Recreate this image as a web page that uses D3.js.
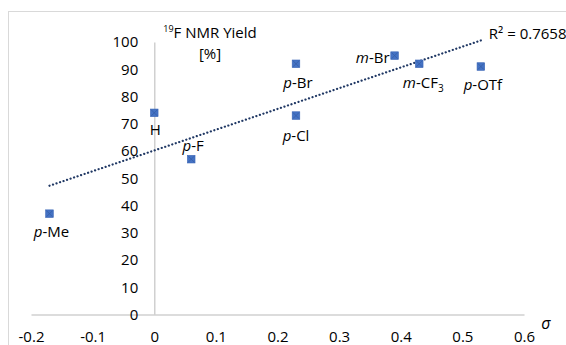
<!DOCTYPE html>
<meta charset="utf-8">
<style>
body { margin: 0; background: #fff; }
text { font-family: "Open Sans", sans-serif; fill: #000; }
.axis path { stroke: #d0d0d0; stroke-width: 1.5px; }
.axis text { font-size: 15px; fill: #000; }
</style>
<svg width="566" height="345"></svg>
<script src="https://cdn.jsdelivr.net/npm/d3@7"></script>
<script>

var subst  = ["p-Me", "H", "p-F", "p-Cl", "p-Br", "m-Br", "m-CF3", "p-OTf"];
var sigma  = [-0.17, 0, 0.06, 0.23, 0.23, 0.39, 0.43, 0.53];
var yields = [37, 74, 57, 73, 92, 95, 92, 91];
var xTicks = [-0.2, -0.1, 0, 0.1, 0.2, 0.3, 0.4, 0.5, 0.6];
var yTicks = [0, 10, 20, 30, 40, 50, 60, 70, 80, 90, 100];
var r2Label = "R² = 0.7658";

// where each label sits, relative to its point
var labelPos = {
  "p-Me":  {dx: 2,  dy: 18, anchor: "middle"},
  "H":     {dx: 1,  dy: 17, anchor: "middle"},
  "p-F":   {dx: 2,  dy: -13, anchor: "middle"},
  "p-Cl":  {dx: 0,  dy: 20, anchor: "middle"},
  "p-Br":  {dx: 2,  dy: 19, anchor: "middle"},
  "m-Br":  {dx: -5, dy: 2,  anchor: "end"},
  "m-CF3": {dx: 4,  dy: 19, anchor: "middle"},
  "p-OTf": {dx: 2,  dy: 18, anchor: "middle"}
};

var svg = d3.select("svg");

// chart frame
svg.append("rect")
    .attr("x", 8.5).attr("y", 11.5)
    .attr("width", 620).attr("height", 400)
    .attr("fill", "none")
    .attr("stroke", "#d9d9d9");

var x = d3.scaleLinear().domain([-0.2, 0.6]).range([31, 524]);
var y = d3.scaleLinear().domain([0, 100]).range([314.5, 42]);

svg.append("g")
    .attr("class", "axis")
    .attr("transform", "translate(0," + y(0) + ")")
    .call(d3.axisBottom(x).tickValues(xTicks).tickSize(0).tickPadding(17)
      .tickFormat(function (d) { return String(+d.toFixed(1)); }));

svg.append("g")
    .attr("class", "axis")
    .attr("transform", "translate(" + x(0) + ",0)")
    .call(d3.axisLeft(y).tickValues(yTicks).tickSize(0).tickPadding(16)
      .tickFormat(function (d) { return String(d); }));

svg.selectAll(".axis .domain").attr("stroke", "#d0d0d0");

// axis titles
var title = svg.append("text")
    .attr("x", 210).attr("y", 38)
    .attr("text-anchor", "middle")
    .style("font-size", "15px");
title.append("tspan").attr("font-size", "9px").attr("dy", "-6").text("19");
title.append("tspan").attr("dy", "6").text("F NMR Yield");

svg.append("text")
    .attr("x", 210).attr("y", 59)
    .attr("text-anchor", "middle")
    .style("font-size", "15px")
    .text("[%]");

svg.append("text")
    .attr("x", 546).attr("y", 329)
    .attr("text-anchor", "middle")
    .style("font-size", "16px")
    .style("font-style", "italic")
    .text("σ");

// linear trendline from the data
var n = sigma.length;
var mx = d3.mean(sigma), my = d3.mean(yields);
var sxy = 0, sxx = 0;
for (var i = 0; i < n; i++) {
  sxy += (sigma[i] - mx) * (yields[i] - my);
  sxx += (sigma[i] - mx) * (sigma[i] - mx);
}
var slope = sxy / sxx, icept = my - slope * mx;
var x0 = d3.min(sigma), x1 = d3.max(sigma);

svg.append("line")
    .attr("x1", x(x0)).attr("y1", y(slope * x0 + icept))
    .attr("x2", x(x1)).attr("y2", y(slope * x1 + icept))
    .attr("stroke", "#203864")
    .attr("stroke-width", 2.2)
    .attr("stroke-dasharray", "0.1,3.6")
    .attr("stroke-linecap", "round");

svg.append("text")
    .attr("x", x(x1) + 8).attr("y", y(slope * x1 + icept) - 1)
    .style("font-size", "15px")
    .text(r2Label);

// points
var pts = d3.range(n).map(function (i) {
  return {name: subst[i], s: sigma[i], v: yields[i]};
});

var node = svg.selectAll(".pt")
    .data(pts)
    .enter()
    .append("g")
    .attr("class", "pt")
    .attr("transform", function (d) { return "translate(" + x(d.s) + "," + y(d.v) + ")"; });

node.append("rect")
    .attr("x", -3.8).attr("y", -3.8)
    .attr("width", 7.6).attr("height", 7.6)
    .attr("fill", "#4472c4")
    .attr("stroke", "#3a65b5")
    .attr("stroke-width", 0.6);

node.append("path")
    .attr("d", "M-3,-3L3,3M3,-3L-3,3")
    .attr("stroke", "#2f5597")
    .attr("stroke-width", 0.7)
    .attr("opacity", 0.7);

// labels: italic prefix, subscript 3 for CF3
var lab = node.append("text")
    .attr("x", function (d) { return labelPos[d.name].dx; })
    .attr("y", function (d) { return labelPos[d.name].dy + 5; })
    .attr("text-anchor", function (d) { return labelPos[d.name].anchor; })
    .style("font-size", "15px");

lab.each(function (d) {
  var t = d3.select(this);
  var parts = d.name.split("-");
  if (parts.length < 2) { t.text(d.name); return; }
  t.append("tspan").style("font-style", "italic").text(parts[0]);
  var rest = parts[1];
  if (rest === "CF3") {
    t.append("tspan").text("-CF");
    t.append("tspan").attr("font-size", "10px").attr("dy", 4).text("3");
  } else {
    t.append("tspan").text("-" + rest);
  }
});

</script>
